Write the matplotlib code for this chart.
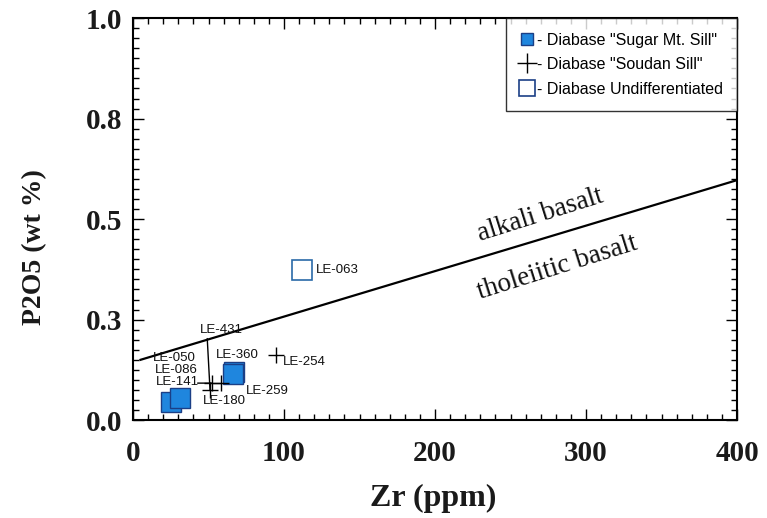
import matplotlib
matplotlib.use("Agg")
import matplotlib.pyplot as plt
from matplotlib.lines import Line2D
from matplotlib.ticker import MultipleLocator

# Diabase samples: Zr (ppm) vs P2O5 (wt %)
sugar_ids = ["LE-050", "LE-086", "LE-360", "LE-259"]
sugar_zr = [25, 31, 67, 66]
sugar_p2o5 = [0.045, 0.055, 0.120, 0.115]

soudan_ids = ["LE-254", "LE-141", "LE-180", "LE-431"]
soudan_zr = [95, 52, 58, 51]
soudan_p2o5 = [0.162, 0.092, 0.092, 0.075]

undiff_ids = ["LE-063"]
undiff_zr = [112]
undiff_p2o5 = [0.373]

# Alkali / tholeiitic discriminant line
boundary_zr = [5, 400]
boundary_p2o5 = [0.150, 0.597]

x_ticks = [0, 100, 200, 300, 400]
y_ticks = [0.0, 0.25, 0.5, 0.75, 1.0]
y_tick_labels = ["0.0", "0.3", "0.5", "0.8", "1.0"]

legend_labels = ['- Diabase "Sugar Mt. Sill"',
                 '- Diabase "Soudan Sill"',
                 '- Diabase Undifferentiated']

fill_blue = "#1f86de"
edge_blue = "#1b3f86"
open_blue = "#2a6aa8"

fig = plt.figure(figsize=(7.67, 5.18), dpi=100)
ax = fig.add_axes([0.1734, 0.189, 0.7876, 0.776])

ax.plot(boundary_zr, boundary_p2o5, color="black", lw=1.6, zorder=2)

ax.plot(sugar_zr, sugar_p2o5, ls="none", marker="s", ms=15,
        mfc=fill_blue, mec=edge_blue, mew=1.0, zorder=3)
ax.plot(soudan_zr, soudan_p2o5, ls="none", marker="+", ms=12,
        mec="black", mew=1.0, zorder=4)
ax.plot(undiff_zr, undiff_p2o5, ls="none", marker="s", ms=15,
        mfc="white", mec=open_blue, mew=1.2, zorder=3)

lab_font = dict(family="Liberation Sans", fontsize=9.5, color="#111111")
# label offsets in points (dx, dy) from each sample
offsets = {
    "LE-050": (-13, 31.5),
    "LE-086": (-18, 20),
    "LE-360": (-13, 12),
    "LE-259": (9.5, -12.5),
    "LE-254": (4.7, -5),
    "LE-141": (-40, 1),
    "LE-180": (-12.7, -13),
    "LE-431": (-7, 43),
    "LE-063": (10, 0),
}
for ids, xs, ys in [(sugar_ids, sugar_zr, sugar_p2o5),
                    (soudan_ids, soudan_zr, soudan_p2o5),
                    (undiff_ids, undiff_zr, undiff_p2o5)]:
    for name, x, y in zip(ids, xs, ys):
        dx, dy = offsets[name]
        ax.annotate(name, (x, y), xytext=(dx, dy), textcoords="offset points",
                    ha="left", va="center", zorder=5, **lab_font)

# Leader lines for the crowded cluster
ax.annotate("", (soudan_zr[3], soudan_p2o5[3]), xytext=(-2, 37),
            textcoords="offset points",
            arrowprops=dict(arrowstyle="-", color="black", lw=1.0,
                            shrinkA=0, shrinkB=0))
ax.annotate("", (soudan_zr[1], soudan_p2o5[1]), xytext=(-10, 0),
            textcoords="offset points",
            arrowprops=dict(arrowstyle="-", color="black", lw=1.0,
                            shrinkA=0, shrinkB=0))

ax.text(270, 0.51, "alkali basalt", rotation=17.5, ha="center", va="center",
        family="Liberation Serif", fontsize=19.5, color="#111111",
        rotation_mode="anchor")
ax.text(281, 0.378, "tholeiitic basalt", rotation=17.5, ha="center", va="center",
        family="Liberation Serif", fontsize=19.5, color="#111111",
        rotation_mode="anchor")

ax.set_xlim(0, 400)
ax.set_ylim(0, 1.0)
ax.set_xticks(x_ticks)
ax.set_yticks(y_ticks)
ax.set_yticklabels(y_tick_labels)
ax.xaxis.set_minor_locator(MultipleLocator(10))
ax.yaxis.set_minor_locator(MultipleLocator(0.025))
ax.tick_params(which="both", direction="in", top=True, right=True,
               color="black", width=1.0)
ax.tick_params(which="major", length=8)
ax.tick_params(which="minor", length=4)
ax.tick_params(axis="x", which="major", pad=14)
ax.tick_params(axis="y", which="major", pad=8)
for lbl in ax.get_xticklabels() + ax.get_yticklabels():
    lbl.set_family("Liberation Serif")
    lbl.set_fontweight("bold")
    lbl.set_fontsize(21)
    lbl.set_color("#1a1a1a")
for sp in ax.spines.values():
    sp.set_linewidth(1.5)

ax.set_xlabel("Zr (ppm)", family="Liberation Serif", fontweight="bold",
              fontsize=23, color="#1a1a1a")
ax.set_ylabel("P2O5 (wt %)", family="Liberation Serif", fontweight="bold",
              fontsize=20, color="#1a1a1a")
ax.xaxis.set_label_coords(0.497, -0.158)
ax.yaxis.set_label_coords(-0.142, 0.43)

handles = [
    Line2D([], [], ls="none", marker="s", ms=9, mfc=fill_blue, mec=edge_blue),
    Line2D([], [], ls="none", marker="+", ms=14, mec="black", mew=1.0),
    Line2D([], [], ls="none", marker="s", ms=12, mfc="white", mec=edge_blue, mew=1.2),
]
leg = ax.legend(handles, legend_labels, loc="upper right",
                prop=dict(family="Liberation Sans", size=11.5),
                frameon=True, fancybox=False, borderpad=0.9,
                handlelength=0.9, handletextpad=0.15, labelspacing=0.6,
                borderaxespad=0.0)
leg.get_frame().set_edgecolor("black")
leg.get_frame().set_linewidth(1.0)

fig.savefig("out.png", dpi=100)
